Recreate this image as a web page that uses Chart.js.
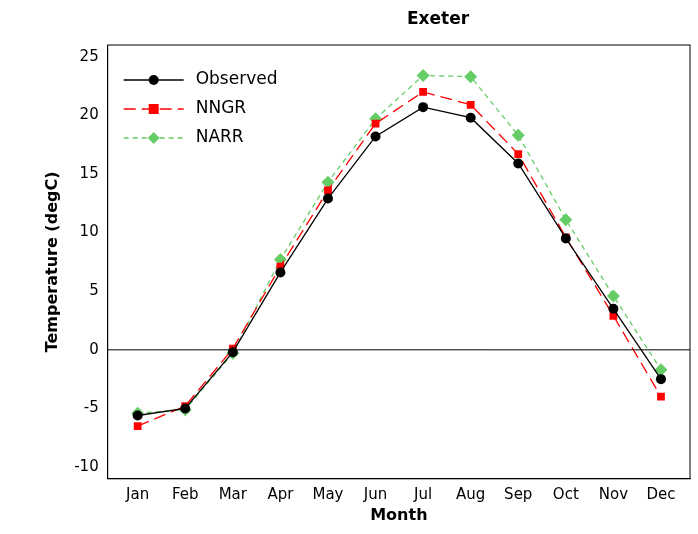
<!DOCTYPE html>
<html>
<head>
<meta charset="utf-8">
<script src="https://cdn.jsdelivr.net/npm/chart.js@4"></script>
<style>
  body { margin: 0; background: #fff; }
  #wrap { width: 698px; height: 534px; }
</style>
</head>
<body>
<div id="wrap"><canvas id="graf"></canvas></div>
<script>
// Dados
var meses     = ['Jan','Feb','Mar','Apr','May','Jun','Jul','Aug','Sep','Oct','Nov','Dec'];
var observado = [-5.6, -5.0, -0.2, 6.6, 12.9, 18.2, 20.7, 19.8, 15.9, 9.5, 3.5, -2.5];
var nngr      = [-6.5, -4.8, 0.1, 7.1, 13.6, 19.3, 22.0, 20.9, 16.7, 9.6, 2.9, -4.0];
var narr      = [-5.4, -5.1, -0.3, 7.7, 14.3, 19.7, 23.4, 23.3, 18.3, 11.1, 4.6, -1.7];
var ticksY    = [-10, -5, 0, 5, 10, 15, 20, 25];

var FONTE = "'DejaVu Sans', Verdana, sans-serif";
Chart.defaults.font.family = FONTE;
Chart.defaults.color = '#000';

function pontos(arr) {
  return arr.map(function(v, i) { return { x: i, y: v }; });
}

// Título, moldura, linha do zero e legenda
var extras = {
  id: 'extras',
  afterDatasetsDraw: function(chart) {
    var c = chart.ctx, a = chart.chartArea, y = chart.scales.y;
    c.save();
    c.fillStyle = '#000'; c.font = 'bold 17px ' + FONTE;
    c.textAlign = 'center'; c.textBaseline = 'middle';
    c.fillText('Exeter', 438, 20);
    c.textAlign = 'left';
    c.strokeStyle = '#000'; c.lineWidth = 1;
    var y0 = y.getPixelForValue(0);
    c.beginPath(); c.moveTo(a.left, y0); c.lineTo(a.right, y0); c.stroke();
    c.strokeRect(a.left, a.top, a.right - a.left, a.bottom - a.top);
    // legenda
    var x0 = a.left + 16, yy = a.top + 35;
    chart.data.datasets.forEach(function(ds, i) {
      var ly = yy + i * 29;
      c.strokeStyle = ds.borderColor; c.lineWidth = ds.borderWidth;
      c.setLineDash(ds.borderDash || []);
      c.beginPath(); c.moveTo(x0, ly); c.lineTo(x0 + 60, ly); c.stroke();
      c.setLineDash([]);
      c.fillStyle = ds.pointBackgroundColor;
      var px = x0 + 30, r = 5;
      c.beginPath();
      if (ds.pointStyle === 'circle') c.arc(px, ly, r, 0, Math.PI * 2);
      else if (ds.pointStyle === 'rect') c.rect(px - r, ly - r, 2 * r, 2 * r);
      else { c.moveTo(px, ly - 6); c.lineTo(px + 6, ly); c.lineTo(px, ly + 6); c.lineTo(px - 6, ly); c.closePath(); }
      c.fill();
      c.fillStyle = '#000'; c.font = '17px ' + FONTE; c.textBaseline = 'middle';
      c.fillText(ds.label, x0 + 72, ly);
    });
    c.restore();
  }
};

new Chart(document.getElementById('graf'), {
  type: 'line',
  data: {
    datasets: [
      { label: 'Observed', data: pontos(observado), borderColor: '#000', borderWidth: 1.3,
        pointStyle: 'circle', pointRadius: 5, pointBackgroundColor: '#000', pointBorderWidth: 0 },
      { label: 'NNGR', data: pontos(nngr), borderColor: '#ff0000', borderWidth: 1.3, borderDash: [12, 6],
        pointStyle: 'rect', pointRadius: 5.5, pointBackgroundColor: '#ff0000', pointBorderWidth: 0 },
      { label: 'NARR', data: pontos(narr), borderColor: '#66cc66', borderWidth: 1.3, borderDash: [5, 4],
        pointStyle: 'rectRot', pointRadius: 6.5, pointBackgroundColor: '#66cc66', pointBorderWidth: 0 }
    ]
  },
  options: {
    responsive: true,
    maintainAspectRatio: false,
    animation: false,
    layout: { padding: { top: 45, right: 8, left: 35, bottom: 9 } },
    plugins: {
      legend: { display: false },
      tooltip: { enabled: false }
    },
    scales: {
      x: {
        type: 'linear',
        min: -0.63, max: 11.61,
        afterBuildTicks: function(s) { s.ticks = meses.map(function(m, i) { return { value: i }; }); },
        grid: { display: false, drawTicks: true, tickLength: 5, tickColor: '#000' },
        border: { color: '#000' },
        ticks: { font: { size: 15 }, padding: 2, callback: function(v) { return meses[v]; } },
        title: { display: true, text: 'Month', font: { size: 16, weight: 'bold' }, padding: 0 }
      },
      y: {
        min: -11, max: 26,
        afterBuildTicks: function(s) { s.ticks = ticksY.map(function(v) { return { value: v }; }); },
        grid: { display: false, drawTicks: true, tickLength: 5, tickColor: '#000' },
        border: { color: '#000' },
        ticks: { font: { size: 15 }, padding: 4 },
        title: { display: true, text: 'Temperature (degC)', font: { size: 16, weight: 'bold' }, padding: 8 }
      }
    }
  },
  plugins: [extras]
});
</script>
</body>
</html>
